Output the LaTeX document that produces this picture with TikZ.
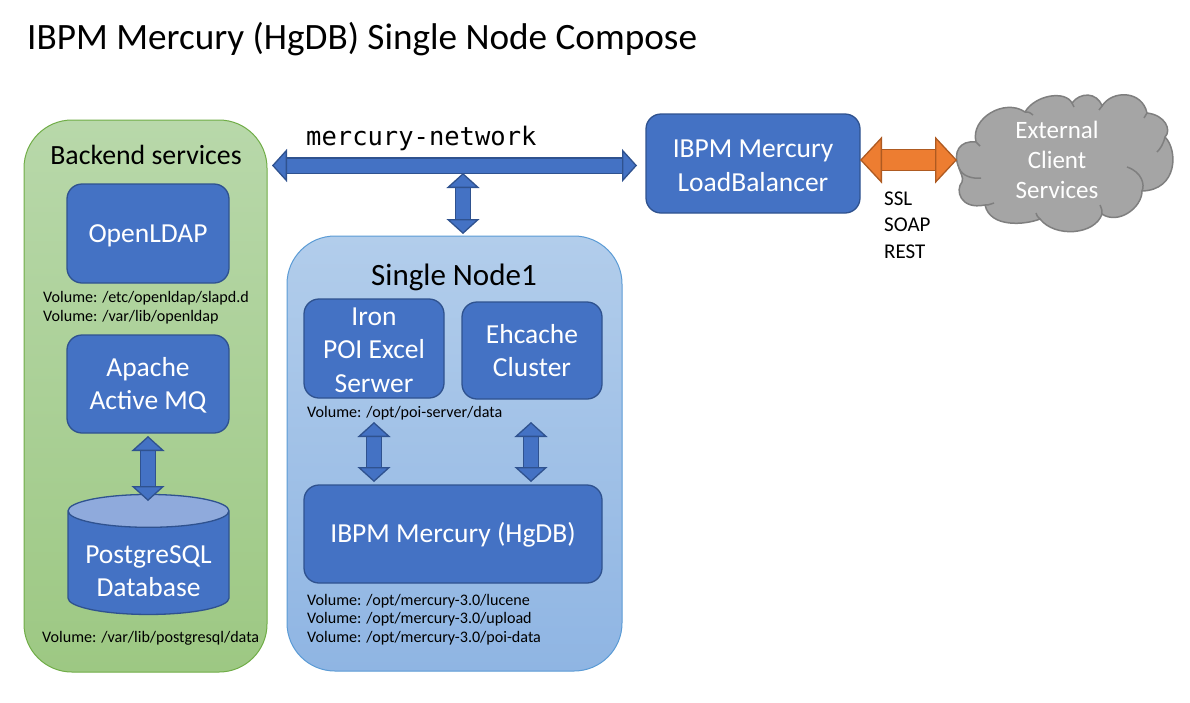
\documentclass[tikz,border=0pt]{standalone}
\usepackage{fontspec}
\setmainfont{Carlito}
\setmonofont{DejaVu Sans Mono}
\usetikzlibrary{arrows.meta,shapes.geometric}
\definecolor{boxblue}{HTML}{4472C4}
\definecolor{boxline}{HTML}{2F528F}
\definecolor{cyltop}{HTML}{8FAADC}
\definecolor{orangefill}{HTML}{ED7D31}
\definecolor{orangeline}{HTML}{AE5A21}
\definecolor{cloudfill}{HTML}{A5A5A5}
\definecolor{cloudline}{HTML}{7F7F7F}
\newcommand{\lowline}[1]{\rule{0pt}{#1pt}}
\tikzset{
  service/.style={draw=boxline,line width=1.3pt,fill=boxblue,rounded corners=15pt,inner sep=0pt,
    text=white,align=center,font=\fontsize{27.5}{33.5}\selectfont},
  volume/.style={inner sep=0pt,anchor=west,align=left,font=\fontsize{16.1}{18.8}\selectfont},
  blockarrow/.style={line width=1.3pt,draw=boxline,double=boxblue,double distance=14pt,
    {Triangle[length=15pt,width=33pt,fill=boxblue,line width=1.3pt]}-{Triangle[length=15pt,width=33pt,fill=boxblue,line width=1.3pt]}},
  orangearrow/.style={line width=1.3pt,draw=orangeline,double=orangefill,double distance=19.5pt,
    {Triangle[length=22pt,width=47pt,fill=orangefill,line width=1.3pt]}-{Triangle[length=22pt,width=47pt,fill=orangefill,line width=1.3pt]}}
}
\begin{document}
\begin{tikzpicture}[x=1pt,y=-1pt]
  \useasboundingbox (0,0) rectangle (1190,702);
  \node (title) at (27,39) [anchor=west,inner sep=0pt,font=\fontsize{37.2}{42}\selectfont] {IBPM Mercury (HgDB) Single Node Compose};
  % group boxes
  \node (backend) at (145.5,396) [draw={rgb,255:red,112;green,173;blue,71},line width=1pt,top color={rgb,255:red,184;green,216;blue,170},bottom color={rgb,255:red,157;green,200;blue,131},rounded corners=48pt,minimum width=243pt,minimum height=552pt,inner sep=0pt] {};
  \node (single) at (454.5,453.5) [draw={rgb,255:red,91;green,155;blue,213},line width=1pt,top color={rgb,255:red,178;green,205;blue,235},bottom color={rgb,255:red,143;green,181;blue,227},rounded corners=48pt,minimum width=335pt,minimum height=435pt,inner sep=0pt] {};
  \node (backendlbl) at (146,155) [inner sep=0pt,font=\fontsize{27.8}{30}\selectfont] {Backend services};
  \node (singlelbl) at (454,277) [inner sep=0pt,font=\fontsize{31}{34}\selectfont] {Single Node1};
  % services
  \node (ldap) at (148,233.5) [service,minimum width=162pt,minimum height=99pt] {\lowline{22}OpenLDAP};
  \node (mq) at (148,384) [service,minimum width=162pt,minimum height=98pt] {\lowline{22}Apache\\Active MQ};
  \node (pgsql) at (148.5,563) [draw=boxline,line width=1.3pt,cylinder,shape border rotate=90,shape aspect=0.26,cylinder uses custom fill,cylinder body fill=boxblue,cylinder end fill=cyltop,minimum width=161pt,minimum height=120pt,inner sep=0pt,text=white,align=center,font=\fontsize{27.5}{33.5}\selectfont] {\lowline{34}PostgreSQL\\Database};
  \node (poi) at (374,348.5) [service,minimum width=140pt,minimum height=99pt] {\lowline{21}Iron\\POI Excel\\Serwer};
  \node (ehcache) at (532,350.5) [service,minimum width=140pt,minimum height=97pt] {Ehcache\\Cluster};
  \node (hgdb) at (453,534) [service,minimum width=298pt,minimum height=98pt] {\lowline{22}IBPM Mercury (HgDB)};
  \node (lb) at (753,163.5) [service,minimum width=214pt,minimum height=99pt] {\lowline{22}IBPM Mercury\\LoadBalancer};
  % cloud outline
  \draw[cloudline,line width=1.5pt,fill=cloudfill] (959,168)
    .. controls (952,152) and (960,140) .. (976,142)
    .. controls (970,118) and (1005,98) .. (1025,112)
    .. controls (1035,95) and (1065,90) .. (1072,103)
    .. controls (1080,92) and (1097,92) .. (1102,106)
    .. controls (1112,90) and (1142,90) .. (1147,113)
    .. controls (1165,115) and (1172,130) .. (1165,137)
    .. controls (1178,150) and (1178,190) .. (1142,191)
    .. controls (1142,208) and (1118,225) .. (1102,214)
    .. controls (1095,235) and (1055,238) .. (1040,219)
    .. controls (1025,225) and (990,228) .. (985,205)
    .. controls (960,210) and (955,190) .. (962,182)
    .. controls (964,178) and (960,172) .. (959,168) -- cycle;
  \draw[cloudline,line width=1.5pt]
    (1127,167) .. controls (1142,172) and (1145,185) .. (1142,191)
    (959,168) .. controls (962,176) and (972,179) .. (981,178)
    (985,205) .. controls (988,205) .. (994,203)
    (1102,214) .. controls (1102,210) .. (1100,205)
    (1165,137) .. controls (1163,145) and (1160,149) .. (1157,152)
    (1147,113) .. controls (1146,116) .. (1144,118)
    (1102,106) .. controls (1101,108) .. (1099,110)
    (1072,103) .. controls (1073,105) .. (1074,107)
    (1025,112) .. controls (1029,112) .. (1033,115)
    (976,142) .. controls (977,143) .. (980,146)
    (1040,219) .. controls (1037,216) .. (1036,213);
  \node (client) at (1057,160) [inner sep=0pt,text=white,align=center,font=\fontsize{25}{30}\selectfont] {External\\Client\\Services};
  % volume notes
  \node (vol1) at (43,307.5) [volume] {Volume: /etc/openldap/slapd.d\\Volume: /var/lib/openldap};
  \node (vol2) at (42,638) [volume] {Volume: /var/lib/postgresql/data};
  \node (vol3) at (307,413) [volume] {Volume: /opt/poi-server/data};
  \node (vol4) at (307,619.5) [volume] {Volume: /opt/mercury-3.0/lucene\\Volume: /opt/mercury-3.0/upload\\Volume: /opt/mercury-3.0/poi-data};
  \node (proto) at (884,225) [inner sep=0pt,anchor=west,align=left,font=\fontsize{21}{26.5}\selectfont] {SSL\\SOAP\\REST};
  \node (netlbl) at (306,138) [inner sep=0pt,anchor=west,font=\ttfamily\fontsize{25.5}{30}\selectfont] {mercury-network};
  % arrows
  \coordinate (netl) at (272,165.5);
  \coordinate (netr) at (637,165.5);
  \coordinate (netd) at (463,173);
  \coordinate (sgnu) at (463,234);
  \coordinate (mqd) at (148,436);
  \coordinate (pgu) at (148,501);
  \coordinate (poid) at (374,422);
  \coordinate (hgu) at (374,482);
  \coordinate (ehd) at (531,422);
  \coordinate (hgv) at (531,482);
  \coordinate (lbr) at (860,160);
  \coordinate (clientl) at (957,160);
  \draw[blockarrow] (netl) -- (netr);
  \draw[blockarrow] (netd) -- (sgnu);
  \draw[blockarrow] (mqd) -- (pgu);
  \draw[blockarrow] (poid) -- (hgu);
  \draw[blockarrow] (ehd) -- (hgv);
  \draw[orangearrow] (lbr) -- (clientl);
\end{tikzpicture}
\end{document}
